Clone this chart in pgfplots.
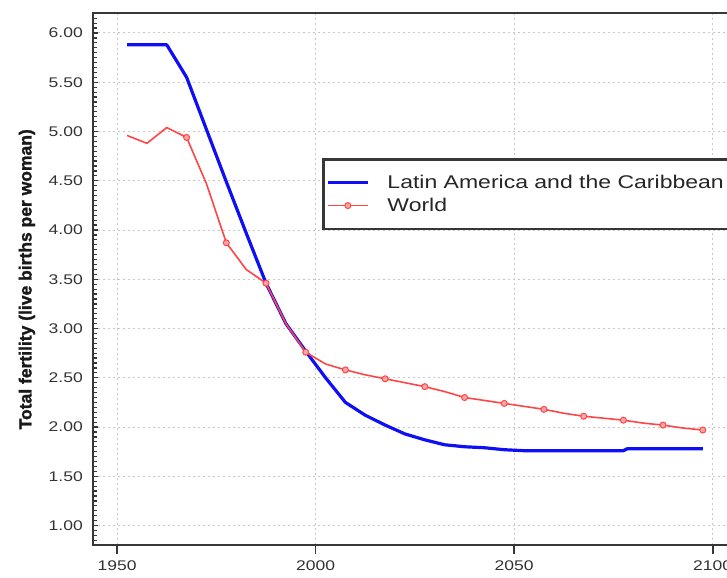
\documentclass[border=0pt]{standalone}
\usepackage{fontspec}
\setmainfont{Liberation Sans}[FakeStretch=1.25]
\newfontfamily\ylabfont{Liberation Sans}[FakeBold=1.5]
\usepackage{pgfplots}
\pgfplotsset{compat=1.18}
\definecolor{lacblue}{RGB}{15,15,245}
\definecolor{worldred}{RGB}{255,70,70}
\definecolor{worldfill}{RGB}{255,165,165}
\definecolor{gridgray}{RGB}{200,200,200}
\definecolor{framegray}{RGB}{55,55,55}

\begin{document}
\begin{tikzpicture}
\begin{axis}[
    x=3.97pt, y=98.5pt,
    xmin=1944, xmax=2106,
    ymin=0.8, ymax=6.2,
    axis line style={framegray, line width=2pt},
    xtick={1950,2000,2050,2100},
    ytick={1.00,1.50,2.00,2.50,3.00,3.50,4.00,4.50,5.00,5.50,6.00},
    minor ytick={0.85,0.9,...,6.2},
    xtick pos=bottom, ytick pos=left,
    xtick align=outside, ytick align=inside,
    xtick style={framegray, line width=1.6pt, /pgfplots/major tick length=9pt},
    ytick style={framegray, line width=1.2pt, /pgfplots/major tick length=5pt, /pgfplots/minor tick length=4pt},
    grid=major,
    major grid style={gridgray, line width=1pt, dash pattern=on 2pt off 3pt},
    /pgf/number format/assume math mode=true,
    tick label style={font=\fontsize{14}{14}\selectfont, text=black!80},
    xticklabel style={/pgf/number format/1000 sep={}},
    yticklabel style={/pgf/number format/.cd, fixed, fixed zerofill, precision=2},
    yticklabel shift=7pt,
    xticklabel shift=8pt,
    ylabel={\ylabfont\bfseries Total fertility (live births per woman)},
    ylabel style={font=\fontsize{17.5}{18}\selectfont, text=black!90,
        at={(axis description cs:-0.085,0.5)}, anchor=south},
    legend style={at={(axis cs:2001.6,4.73)}, anchor=north west,
        draw=framegray, line width=2.5pt, inner xsep=3pt, inner ysep=12pt,
        font=\fontsize{18.4}{20}\selectfont, text=black!85,
        nodes={inner xsep=3pt, inner ysep=4pt},
        /tikz/column sep=15pt},
    legend cell align=left,
    legend image code/.code={
        \draw[#1, mark repeat=2, mark phase=2] plot coordinates {(0pt,0pt) (20pt,0pt) (40pt,0pt)};
    },
]

\addplot[color=lacblue, line width=3.2pt, line join=round] coordinates {
    (1952.5,5.88) (1957.5,5.88) (1962.5,5.88) (1967.5,5.55)
    (1972.5,5.02) (1977.5,4.49) (1982.5,3.97) (1987.5,3.46)
    (1992.5,3.05) (1997.5,2.77) (2002.5,2.50) (2007.5,2.25)
    (2012.5,2.12) (2017.5,2.02) (2022.5,1.93) (2027.5,1.87)
    (2032.5,1.82) (2037.5,1.80) (2042.5,1.79) (2047.5,1.77)
    (2052.5,1.76) (2057.5,1.76) (2062.5,1.76) (2067.5,1.76)
    (2072.5,1.76) (2077.5,1.76) (2078.5,1.78) (2087.5,1.78)
    (2097.5,1.78)
};
\addlegendentry{Latin America and the Caribbean\hspace*{14pt}}

\addplot[color=worldred, line width=1.6pt, mark=*, mark size=3pt,
    mark options={draw=worldred, fill=worldfill, line width=1pt},
    mark repeat=2, mark phase=4] coordinates {
    (1952.5,4.96) (1957.5,4.88) (1962.5,5.04) (1967.5,4.94)
    (1972.5,4.47) (1977.5,3.87) (1982.5,3.60) (1987.5,3.46)
    (1992.5,3.05) (1997.5,2.76) (2002.5,2.64) (2007.5,2.58)
    (2012.5,2.53) (2017.5,2.49) (2022.5,2.45) (2027.5,2.41)
    (2032.5,2.36) (2037.5,2.30) (2042.5,2.27) (2047.5,2.24)
    (2052.5,2.21) (2057.5,2.18) (2062.5,2.14) (2067.5,2.11)
    (2072.5,2.09) (2077.5,2.07) (2082.5,2.04) (2087.5,2.02)
    (2092.5,1.99) (2097.5,1.97)
};
\addlegendentry{World}

\coordinate (bbsw) at (axis cs:1920.5,0.477);
\coordinate (bbne) at (axis cs:2103.6,6.335);
\end{axis}
\pgfresetboundingbox
\path[use as bounding box] (bbsw) rectangle (bbne);
\end{tikzpicture}
\end{document}
